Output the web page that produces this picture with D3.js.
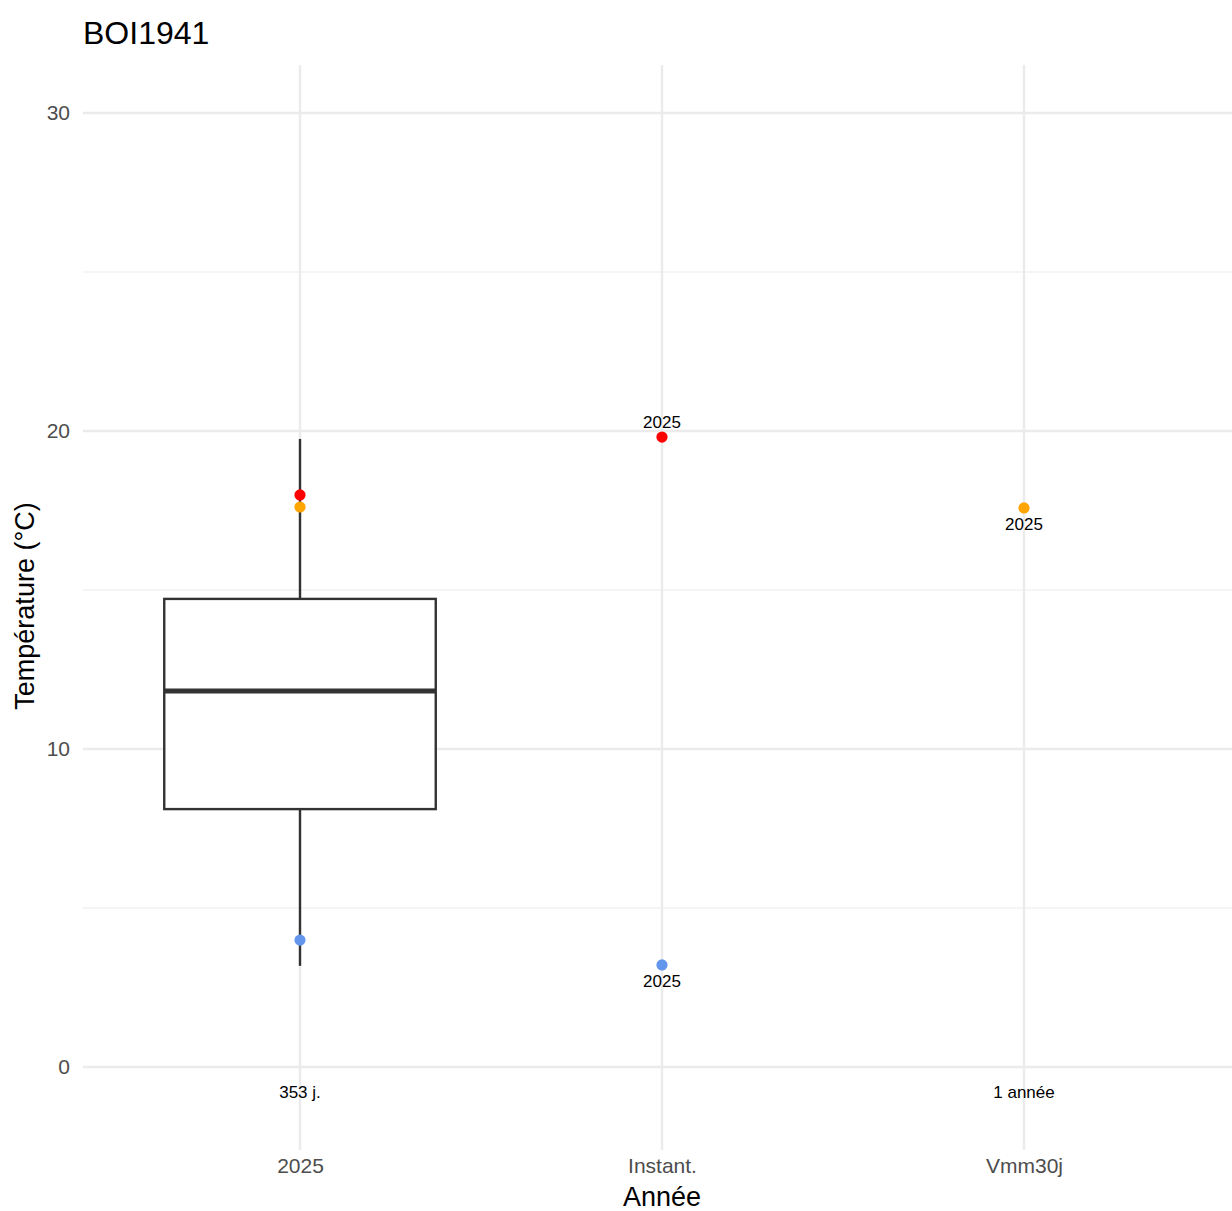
<!DOCTYPE html>
<html><head><meta charset="utf-8">
<script src="https://cdn.jsdelivr.net/npm/d3@7"></script>
<style>body{margin:0;background:#fff}svg{display:block;font-family:"Liberation Sans",Arial,sans-serif}</style>
</head><body><div id="chart"></div>
<script>
const categories = ["2025", "Instant.", "Vmm30j"];
const boxStats = {cat: "2025", lower: 3.18, q1: 8.11, median: 11.82, q3: 14.72, upper: 19.75};
const points = [
  {cat: "2025", value: 17.99, color: "#FF0000", label: ""},
  {cat: "2025", value: 17.61, color: "#FFA500", label: ""},
  {cat: "2025", value: 3.99, color: "#6495ED", label: ""},
  {cat: "Instant.", value: 19.81, color: "#FF0000", label: "2025", pos: "above"},
  {cat: "Instant.", value: 3.21, color: "#6495ED", label: "2025", pos: "below"},
  {cat: "Vmm30j", value: 17.58, color: "#FFA500", label: "2025", pos: "below"}
];
const countLabels = [{cat: "2025", text: "353 j."}, {cat: "Vmm30j", text: "1 année"}];
const countLabelY = -0.8;
const yTicks = [0, 10, 20, 30];
const yMinor = [5, 15, 25];
const title = "BOI1941", xTitle = "Année", yTitle = "Température (°C)";

const W = 1232, H = 1211;
const panel = {left: 83, right: 1241, top: 65, bottom: 1150};
const svg = d3.select("#chart").append("svg").attr("width", W).attr("height", H);

const x = d3.scalePoint().domain(categories).range([300, 1024]);
const y = d3.scaleLinear().domain([0, 30]).range([1067, 113]);
const bw = x.step() * 0.75;

const g = svg.append("g");
// grid
g.selectAll(".minor").data(yMinor).join("line")
  .attr("x1", panel.left).attr("x2", W).attr("y1", d => y(d)).attr("y2", d => y(d))
  .attr("stroke", "#EBEBEB").attr("stroke-width", 1.2);
g.selectAll(".major").data(yTicks).join("line")
  .attr("x1", panel.left).attr("x2", W).attr("y1", d => y(d)).attr("y2", d => y(d))
  .attr("stroke", "#EBEBEB").attr("stroke-width", 2.4);
g.selectAll(".vmajor").data(categories).join("line")
  .attr("x1", d => x(d)).attr("x2", d => x(d)).attr("y1", panel.top).attr("y2", panel.bottom)
  .attr("stroke", "#EBEBEB").attr("stroke-width", 2.4);

// box
const bx = x(boxStats.cat);
const col = "#333333";
g.append("line").attr("x1", bx).attr("x2", bx).attr("y1", y(boxStats.upper)).attr("y2", y(boxStats.q3))
  .attr("stroke", col).attr("stroke-width", 2.4);
g.append("line").attr("x1", bx).attr("x2", bx).attr("y1", y(boxStats.q1)).attr("y2", y(boxStats.lower))
  .attr("stroke", col).attr("stroke-width", 2.4);
g.append("rect").attr("x", bx - bw / 2).attr("width", bw)
  .attr("y", y(boxStats.q3)).attr("height", y(boxStats.q1) - y(boxStats.q3))
  .attr("fill", "#fff").attr("stroke", col).attr("stroke-width", 2.4);
g.append("line").attr("x1", bx - bw / 2).attr("x2", bx + bw / 2)
  .attr("y1", y(boxStats.median)).attr("y2", y(boxStats.median))
  .attr("stroke", col).attr("stroke-width", 5);

// points
g.selectAll(".pt").data(points).join("circle")
  .attr("cx", d => x(d.cat)).attr("cy", d => y(d.value)).attr("r", 5.6).attr("fill", d => d.color);
g.selectAll(".pl").data(points.filter(d => d.label)).join("text")
  .attr("x", d => x(d.cat)).attr("y", d => y(d.value) + (d.pos === "above" ? -9 : 22))
  .attr("text-anchor", "middle").attr("font-size", 17).attr("fill", "#000").text(d => d.label);
g.selectAll(".cl").data(countLabels).join("text")
  .attr("x", d => x(d.cat)).attr("y", y(countLabelY) + 6)
  .attr("text-anchor", "middle").attr("font-size", 17).attr("fill", "#000").text(d => d.text);

// axes
const yAxis = svg.append("g").attr("transform", `translate(${panel.left},0)`)
  .call(d3.axisLeft(y).tickValues(yTicks).tickSize(0).tickPadding(13));
yAxis.select(".domain").remove();
yAxis.selectAll("text").attr("font-size", 21).attr("fill", "#4D4D4D").attr("font-family", "Liberation Sans, Arial, sans-serif");

const xAxis = svg.append("g").attr("transform", `translate(0,${panel.bottom})`)
  .call(d3.axisBottom(x).tickSize(0).tickPadding(8));
xAxis.select(".domain").remove();
xAxis.selectAll("text").attr("font-size", 21).attr("fill", "#4D4D4D").attr("font-family", "Liberation Sans, Arial, sans-serif");

svg.append("text").attr("x", 662).attr("y", 1206).attr("text-anchor", "middle")
  .attr("font-size", 27).attr("fill", "#000").text(xTitle);
svg.append("text").attr("transform", "translate(34,606) rotate(-90)").attr("text-anchor", "middle")
  .attr("font-size", 27).attr("fill", "#000").text(yTitle);
svg.append("text").attr("x", 83).attr("y", 44).attr("font-size", 32).attr("fill", "#000").text(title);
</script></body></html>
